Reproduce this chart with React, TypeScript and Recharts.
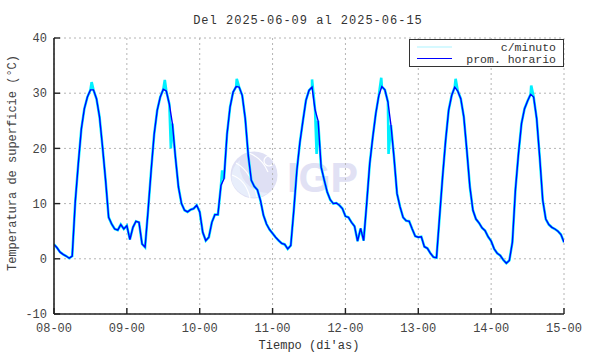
import React from 'react';
import { LineChart, Line, XAxis, YAxis, CartesianGrid, Legend } from 'recharts';

// ---- tick labels / texts ----
const dayLabels = ['08-00', '09-00', '10-00', '11-00', '12-00', '13-00', '14-00', '15-00'];
const xTicks = [0, 24, 48, 72, 96, 120, 144, 168];
const yTicks = [-10, 0, 10, 20, 30, 40];
const titleText = 'Del 2025-06-09 al 2025-06-15';
const xLabel = "Tiempo (di'as)";
const yLabel = 'Temperatura de superficie (°C)';
const seriesNames = ['c/minuto', 'prom. horario'];

// ---- hourly averages (hour 0..23 of each day) ----
const day08 = [2.6, 2.0, 1.2, 0.8, 0.5, 0.1, 0.5, 10.3, 17.2, 23.5, 27.2, 29.3, 30.6, 30.6, 29.0, 25.7, 20.2, 14.2, 7.5, 6.3, 5.4, 5.2, 6.2, 5.4];
const day09 = [6.0, 3.5, 5.7, 6.8, 6.6, 2.7, 2.1, 8.8, 16.0, 22.6, 26.9, 29.3, 30.7, 30.4, 28.0, 24.5, 18.4, 13.0, 10.0, 8.8, 8.5, 8.9, 9.1, 9.7];
const day10 = [8.5, 4.8, 3.3, 3.9, 6.6, 8.0, 8.0, 13.3, 14.5, 22.6, 27.5, 30.2, 31.2, 31.1, 29.6, 25.4, 18.7, 14.2, 13.1, 12.5, 10.6, 7.9, 6.3, 5.3];
const day11 = [4.6, 3.9, 3.3, 2.8, 2.6, 1.8, 2.4, 8.8, 16.0, 21.1, 25.0, 28.7, 30.5, 31.1, 27.0, 25.0, 16.6, 14.3, 12.1, 10.7, 10.0, 10.1, 9.7, 9.1];
const day12 = [7.7, 7.5, 6.6, 5.9, 3.2, 5.5, 3.3, 10.0, 17.2, 22.0, 26.3, 29.6, 31.2, 30.6, 28.4, 24.2, 18.4, 11.8, 9.4, 7.5, 6.9, 6.8, 5.4, 4.1];
const day13 = [3.9, 4.0, 2.2, 1.9, 1.0, 0.3, 0.2, 7.5, 14.8, 21.4, 26.9, 29.6, 31.1, 30.4, 29.0, 25.7, 19.6, 13.0, 8.8, 7.2, 6.5, 5.6, 5.1, 4.0];
const day14 = [3.2, 1.8, 1.0, 0.6, -0.2, -0.8, -0.3, 3.0, 12.5, 19.0, 24.5, 27.2, 28.6, 29.8, 29.3, 25.4, 18.4, 10.6, 7.2, 6.2, 5.7, 5.4, 5.0, 4.4];
const day15Start = [3.0];

// ---- per-minute excursions (hour since 08-00, value) ----
const spikeHours = [12.4, 36.5, 38.5, 55.4, 60.2, 85.0, 86.5, 107.8, 110.2, 132.3, 157.2];
const spikeValues = [32.0, 32.4, 20.0, 16.0, 32.6, 32.5, 19.0, 32.8, 19.0, 32.6, 31.4];

const hourly = [...day08, ...day09, ...day10, ...day11, ...day12, ...day13, ...day14, ...day15Start];
const hourlyData = hourly.map((v, i) => ({ t: i, v }));
const minuteData = [
  ...hourlyData,
  ...spikeHours.map((t, i) => ({ t, v: spikeValues[i] })),
].sort((a, b) => a.t - b.t);

const FONT = '"Liberation Mono", "DejaVu Sans Mono", monospace';
const CYAN = '#00f0ff';
const BLUE = '#0000ff';
const AXIS = '#222';

const LegendBox = () => (
  <svg width={156} height={29} style={{ display: 'block' }}>
    <rect x={0.5} y={0.5} width={154} height={27} fill="#fff" stroke="#333" strokeWidth={1} />
    <line x1={8} x2={43} y1={8} y2={8} stroke="#aef4ff" strokeWidth={1.2} />
    <line x1={8} x2={43} y1={19.5} y2={19.5} stroke={BLUE} strokeWidth={1.2} />
    <text x={147} y={11.5} textAnchor="end" fontFamily={FONT} fontSize={11.5} fill="#333">{seriesNames[0]}</text>
    <text x={147} y={24} textAnchor="end" fontFamily={FONT} fontSize={11.5} fill="#333">{seriesNames[1]}</text>
  </svg>
);

const Watermark = () => (
  <svg width={590} height={354} style={{ position: 'absolute', left: 0, top: 0 }}>
    <circle cx={254} cy={175} r={23.5} fill="#dfe0f4" />
    <path d="M 232 182 A 23.5 23.5 0 0 0 268 193 A 28 28 0 0 1 240 160 A 23.5 23.5 0 0 0 232 182 Z" fill="#e8eefb" />
    <path d="M 236 163 Q 252 172 257 197" stroke="#ffffff" strokeWidth={1.2} fill="none" />
    <path d="M 232 175 Q 246 180 250 198" stroke="#ffffff" strokeWidth={1.2} fill="none" />
    <path d="M 249 153 Q 262 158 268 172" stroke="#ffffff" strokeWidth={1.2} fill="none" />
    <circle cx={269} cy={161} r={5} fill="none" stroke="#ffffff" strokeWidth={1.2} />
    <text x={287} y={192} fontFamily='"Liberation Sans", Arial, sans-serif' fontWeight="bold" fontSize={42}
      fill="#e1e1f4" textLength={71} lengthAdjust="spacingAndGlyphs">IGP</text>
  </svg>
);

export default function App() {
  return (
    <div style={{ position: 'absolute', left: 0, top: 0, width: 590, height: 354, background: '#fff' }}>
      <Watermark />
      <div style={{ position: 'absolute', left: 0, top: 0 }}>
        <LineChart width={590} height={354} data={hourlyData} margin={{ top: 38, right: 26, bottom: 0, left: 0 }}>
          <CartesianGrid stroke="#b4b4b4" strokeDasharray="2 3" strokeWidth={1} />
          <XAxis
            dataKey="t"
            type="number"
            domain={[0, 168]}
            ticks={xTicks}
            allowDataOverflow
            height={40}
            tickSize={-6}
            tickMargin={15}
            tickFormatter={(v: number) => dayLabels[xTicks.indexOf(v)]}
            tick={{ fontFamily: FONT, fontSize: 12, fill: '#444' }}
            axisLine={{ stroke: AXIS, strokeWidth: 1.6 }}
            tickLine={{ stroke: AXIS, strokeWidth: 1.4 }}
          />
          <XAxis
            xAxisId="top"
            orientation="top"
            dataKey="t"
            type="number"
            domain={[0, 168]}
            ticks={xTicks}
            allowDataOverflow
            height={0}
            tickSize={-6}
            tick={false}
            axisLine={{ stroke: AXIS, strokeWidth: 1.6 }}
            tickLine={{ stroke: AXIS, strokeWidth: 1.4 }}
          />
          <YAxis
            type="number"
            domain={[-10, 40]}
            ticks={yTicks}
            allowDataOverflow
            width={54}
            tickSize={-6}
            tickMargin={13}
            tick={{ fontFamily: FONT, fontSize: 12, fill: '#444' }}
            axisLine={{ stroke: AXIS, strokeWidth: 1.6 }}
            tickLine={{ stroke: AXIS, strokeWidth: 1.4 }}
          />
          <YAxis
            yAxisId="right"
            orientation="right"
            type="number"
            domain={[-10, 40]}
            ticks={yTicks}
            allowDataOverflow
            width={0}
            tickSize={-6}
            tick={false}
            axisLine={{ stroke: AXIS, strokeWidth: 1.6 }}
            tickLine={{ stroke: AXIS, strokeWidth: 1.4 }}
          />
          <Line
            data={minuteData}
            dataKey="v"
            name={seriesNames[0]}
            type="linear"
            stroke={CYAN}
            strokeWidth={2.6}
            dot={false}
            activeDot={false}
            isAnimationActive={false}
          />
          <Line
            data={hourlyData}
            dataKey="v"
            name={seriesNames[1]}
            type="linear"
            stroke={BLUE}
            strokeWidth={1.4}
            dot={false}
            activeDot={false}
            isAnimationActive={false}
          />
          <Legend
            layout="vertical"
            align="center"
            verticalAlign="middle"
            content={() => <LegendBox />}
            wrapperStyle={{ left: 409, top: 39, width: 156, height: 29 }}
          />
        </LineChart>
      </div>
      <svg width={590} height={354} style={{ position: 'absolute', left: 0, top: 0, pointerEvents: 'none' }}>
        <text x={308} y={24} textAnchor="middle" fontFamily={FONT} fontSize={12} letterSpacing={1} fill="#333">{titleText}</text>
        <text x={309} y={349} textAnchor="middle" fontFamily={FONT} fontSize={12} fill="#333">{xLabel}</text>
        <text x={13} y={163} textAnchor="middle" dominantBaseline="central" transform="rotate(-90 13 163)"
          fontFamily={FONT} fontSize={12} fill="#444">{yLabel}</text>
      </svg>
    </div>
  );
}
